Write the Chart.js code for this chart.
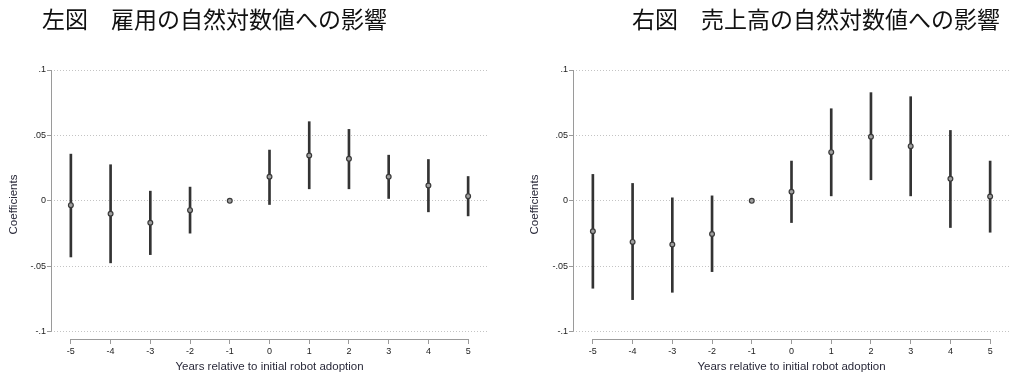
<!DOCTYPE html>
<html>
<head>
<meta charset="utf-8">
<script src="https://cdn.jsdelivr.net/npm/chart.js@4/dist/chart.umd.min.js"></script>
<style>
  html, body { margin: 0; padding: 0; background: #fff; }
  #wrap { position: relative; width: 1020px; height: 382px; overflow: hidden; }
  canvas { position: absolute; top: 0; }
  .ttl { position: absolute; top: 7px; font-family: "Noto Sans CJK JP", sans-serif; font-size: 23px; line-height: 23px; color: #111; white-space: pre; }
</style>
</head>
<body>
<div id="wrap">
  <canvas id="c1" width="510" height="382" style="left:0px"></canvas>
  <canvas id="c2" width="510" height="382" style="left:510px"></canvas>
  <div class="ttl" style="left:42px">左図　雇用の自然対数値への影響</div>
  <div class="ttl" style="left:632px">右図　売上高の自然対数値への影響</div>
</div>
<script>
// ---- data ----
const categories = [-5, -4, -3, -2, -1, 0, 1, 2, 3, 4, 5];
const xTickLabels = ['-5', '-4', '-3', '-2', '-1', '0', '1', '2', '3', '4', '5'];
const yTickValues = [-0.1, -0.05, 0, 0.05, 0.1];
const yTickLabels = ['-.1', '-.05', '0', '.05', '.1'];

// 左図: employment
const empCoef = [-0.0033, -0.0099, -0.0168, -0.0071, 0, 0.0184, 0.0347, 0.0321, 0.0184, 0.0117, 0.0036];
const empLo   = [-0.0429, -0.0474, -0.0411, -0.0247, null, -0.0028, 0.0092, 0.0092, 0.0018, -0.0084, -0.0115];
const empHi   = [0.0357, 0.0276, 0.0074, 0.0105, null, 0.0388, 0.0605, 0.0546, 0.0349, 0.0316, 0.0186];

// 右図: sales
const salesCoef = [-0.0232, -0.0314, -0.0334, -0.0253, 0, 0.0069, 0.0372, 0.0490, 0.0418, 0.0168, 0.0033];
const salesLo   = [-0.0668, -0.0755, -0.0699, -0.0541, null, -0.0166, 0.0038, 0.0161, 0.0038, -0.0204, -0.0240];
const salesHi   = [0.0202, 0.0133, 0.0023, 0.0038, null, 0.0304, 0.0704, 0.0827, 0.0796, 0.0538, 0.0304];

const xTitle = 'Years relative to initial robot adoption';
const yTitle = 'Coefficients';

// ---- chart ----
Chart.defaults.font.family = "'Liberation Sans', Arial, sans-serif";
Chart.defaults.color = '#222';

const axisLines = {
  id: 'axisLines',
  beforeDatasetsDraw(chart) {
    const { ctx, chartArea, scales: { x, y } } = chart;
    ctx.save();
    ctx.strokeStyle = '#9a9a9a';
    ctx.lineWidth = 1;
    ctx.beginPath();
    const lx = Math.round(chartArea.left) + 0.5;
    ctx.moveTo(lx, y.getPixelForValue(yTickValues[yTickValues.length - 1]));
    ctx.lineTo(lx, y.getPixelForValue(yTickValues[0]));
    const by = Math.round(chartArea.bottom) + 0.5;
    ctx.moveTo(x.getPixelForValue(categories[0]), by);
    ctx.lineTo(x.getPixelForValue(categories[categories.length - 1]), by);
    ctx.stroke();
    ctx.restore();
  }
};

function makeChart(id, coef, lo, hi, pad, yWidth) {
  const points = categories.map((c, i) => ({ x: c, y: coef[i] }));
  const bars = categories.map((c, i) => ({ x: c, y: lo[i] === null ? null : [lo[i], hi[i]] }));
  return new Chart(document.getElementById(id), {
    type: 'bar',
    data: {
      datasets: [
        {
          type: 'scatter',
          data: points,
          pointRadius: 2.4,
          pointBorderWidth: 1.2,
          pointBackgroundColor: '#a0a0a0',
          pointBorderColor: '#3a3a3a',
        },
        {
          type: 'bar',
          data: bars,
          backgroundColor: '#333',
          borderWidth: 0,
          barThickness: 2,
        }
      ]
    },
    options: {
      responsive: false,
      animation: false,
      devicePixelRatio: 1,
      layout: { padding: pad },
      plugins: { legend: { display: false }, tooltip: { enabled: false } },
      scales: {
        x: {
          type: 'linear',
          offset: false,
          min: -5.5,
          max: 5.5,
          afterBuildTicks: (s) => { s.ticks = categories.map(v => ({ value: v })); },
          afterFit: (s) => { s.height = 43; },
          ticks: {
            font: { size: 9 },
            padding: 2,
            maxRotation: 0,
            autoSkip: false,
            callback: (v) => xTickLabels[categories.indexOf(v)]
          },
          grid: {
            offset: false,
            drawOnChartArea: false,
            drawTicks: true,
            tickLength: 5,
            tickColor: '#9a9a9a',
            tickBorderDash: []
          },
          border: { display: false, dash: [] },
          title: {
            display: true,
            text: xTitle,
            font: { size: 11.5 },
            color: '#2a2a3a',
            padding: { top: 0, bottom: 8.4 }
          }
        },
        y: {
          type: 'linear',
          min: -0.1056,
          max: 0.1,
          afterBuildTicks: (s) => { s.ticks = yTickValues.map(v => ({ value: v })); },
          afterFit: (s) => { s.width = yWidth; },
          ticks: {
            font: { size: 9 },
            padding: 1,
            autoSkip: false,
            callback: (v) => yTickLabels[yTickValues.indexOf(v)]
          },
          grid: {
            color: '#c4c4c4',
            lineWidth: 1,
            drawTicks: true,
            tickLength: 4,
            tickColor: '#9a9a9a',
            tickBorderDash: []
          },
          border: { display: false, dash: [1, 2] },
          title: {
            display: true,
            text: yTitle,
            font: { size: 11.5 },
            color: '#2a2a3a',
            padding: { top: 7.1, bottom: 0 }
          }
        }
      }
    },
    plugins: [axisLines]
  });
}

makeChart('c1', empCoef, empLo, empHi, { top: 70, left: 0, right: 22, bottom: 0 }, 51);
makeChart('c2', salesCoef, salesLo, salesHi, { top: 70, left: 11, right: 10, bottom: 0 }, 52);
</script>
</body>
</html>
